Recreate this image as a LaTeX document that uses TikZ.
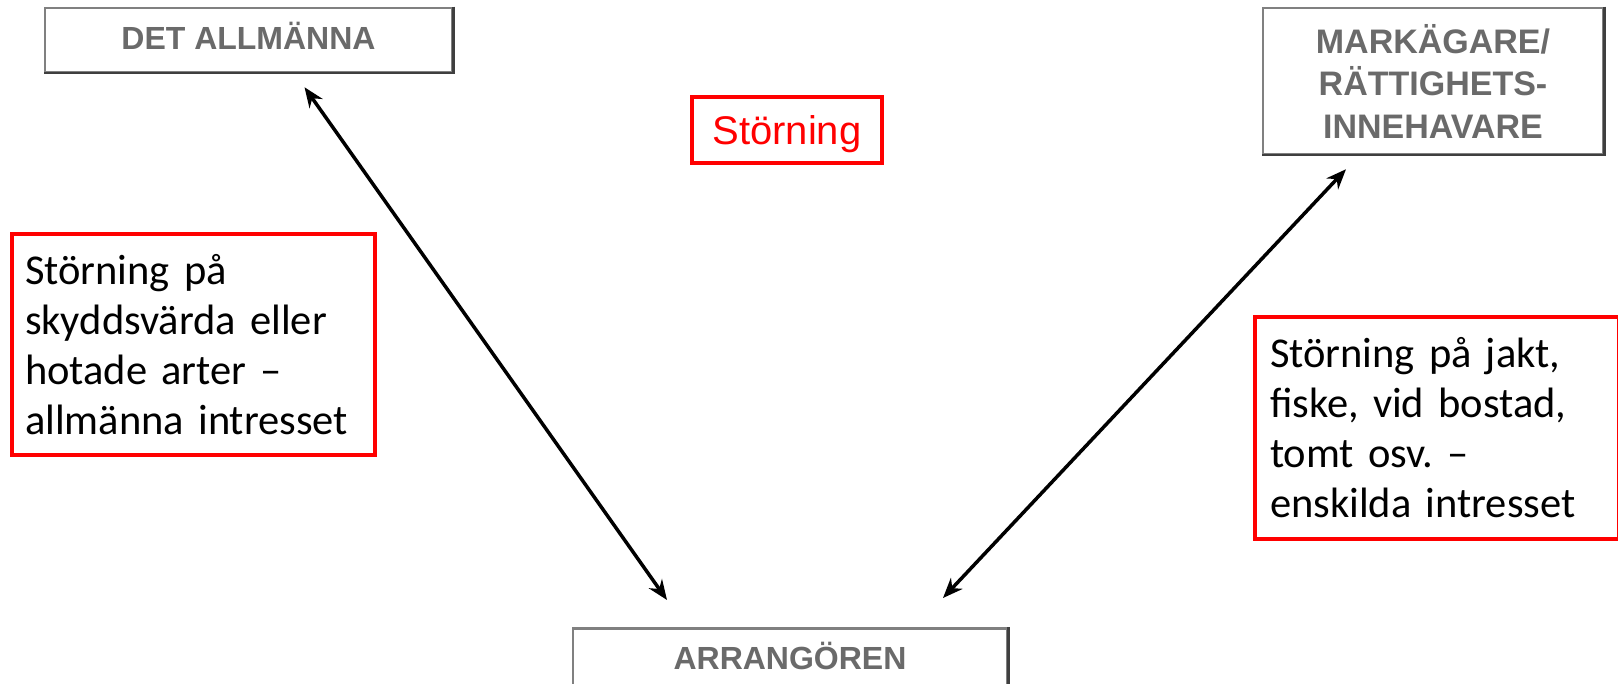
\documentclass[tikz,border=0pt]{standalone}
\usepackage{fontspec}
\setmainfont{Liberation Sans}
\newfontfamily\calibri[WordSpace=0.75]{Carlito}
\usetikzlibrary{arrows.meta}
\definecolor{boxgray}{HTML}{808080}
\definecolor{edgedark}{HTML}{3F3F3F}
\definecolor{txtgray}{HTML}{6A6A6A}
\definecolor{pptred}{HTML}{FF0000}
\frenchspacing
\begin{document}
\begin{tikzpicture}[x=1pt,y=-1pt,
  graybox/.style={draw=boxgray, line width=2.5pt, font=\fontsize{32}{38}\selectfont\bfseries, text=txtgray, inner sep=0pt},
  redlabel/.style={draw=pptred, line width=3.5pt, text=pptred, font=\fontsize{40}{48}\selectfont, inner sep=0pt},
  notebox/.style={draw=pptred, line width=4pt, font=\calibri\fontsize{42.5}{50}\selectfont, align=left, inner ysep=0pt, anchor=north west},
  link/.style={line width=3.5pt, {Stealth[length=20pt,width=16pt]}-{Stealth[length=20pt,width=16pt]}},
  darkedge/.style={draw=edgedark, line width=2.5pt}
]
\useasboundingbox (0,0) rectangle (1618,684);
\fill[white] (0,0) rectangle (1618,684);

\node[graybox, minimum width=407pt, minimum height=64pt, text height=23pt, text depth=3pt] (allm) at (248.5,40) {DET ALLMÄNNA};
\node[graybox, font=\fontsize{34}{42.5}\selectfont\bfseries, align=center, minimum width=340pt, minimum height=146pt] (mark) at (1433,81) {MARKÄGARE/\\RÄTTIGHETS-\\INNEHAVARE};
\node[graybox, anchor=north, minimum width=434pt, minimum height=80pt, text height=20pt, text depth=18pt] (arr) at (790,627) {ARRANGÖREN};

\draw[darkedge] (allm.north east) -- (allm.south east) -- (allm.south west);
\draw[darkedge] (mark.north east) -- (mark.south east) -- (mark.south west);
\draw[darkedge] (arr.north east) -- (arr.south east);

\node[redlabel, minimum width=190pt, minimum height=66pt, text height=28.6pt, text depth=0pt] (stor) at (787,130) {Störning};

\node[notebox, text width=337pt, inner xsep=13pt, minimum height=221pt] (left) at (10,232) {Störning på\\skyddsvärda eller\\hotade arter –\\allmänna intresset};
\node[notebox, text width=334pt, inner xsep=15pt, minimum height=222pt] (right) at (1253,315) {Störning på jakt,\\fiske, vid bostad,\\tomt osv. –\\enskilda intresset};

\coordinate (t1) at ([xshift=56pt,yshift=-14pt]allm.south);
\coordinate (t2) at ([xshift=-123pt,yshift=27pt]arr.north);
\coordinate (t3) at ([xshift=-87pt,yshift=-14pt]mark.south);
\coordinate (t4) at ([xshift=153pt,yshift=29pt]arr.north);
\draw[link] (t1) -- (t2);
\draw[link] (t3) -- (t4);
\end{tikzpicture}
\end{document}
